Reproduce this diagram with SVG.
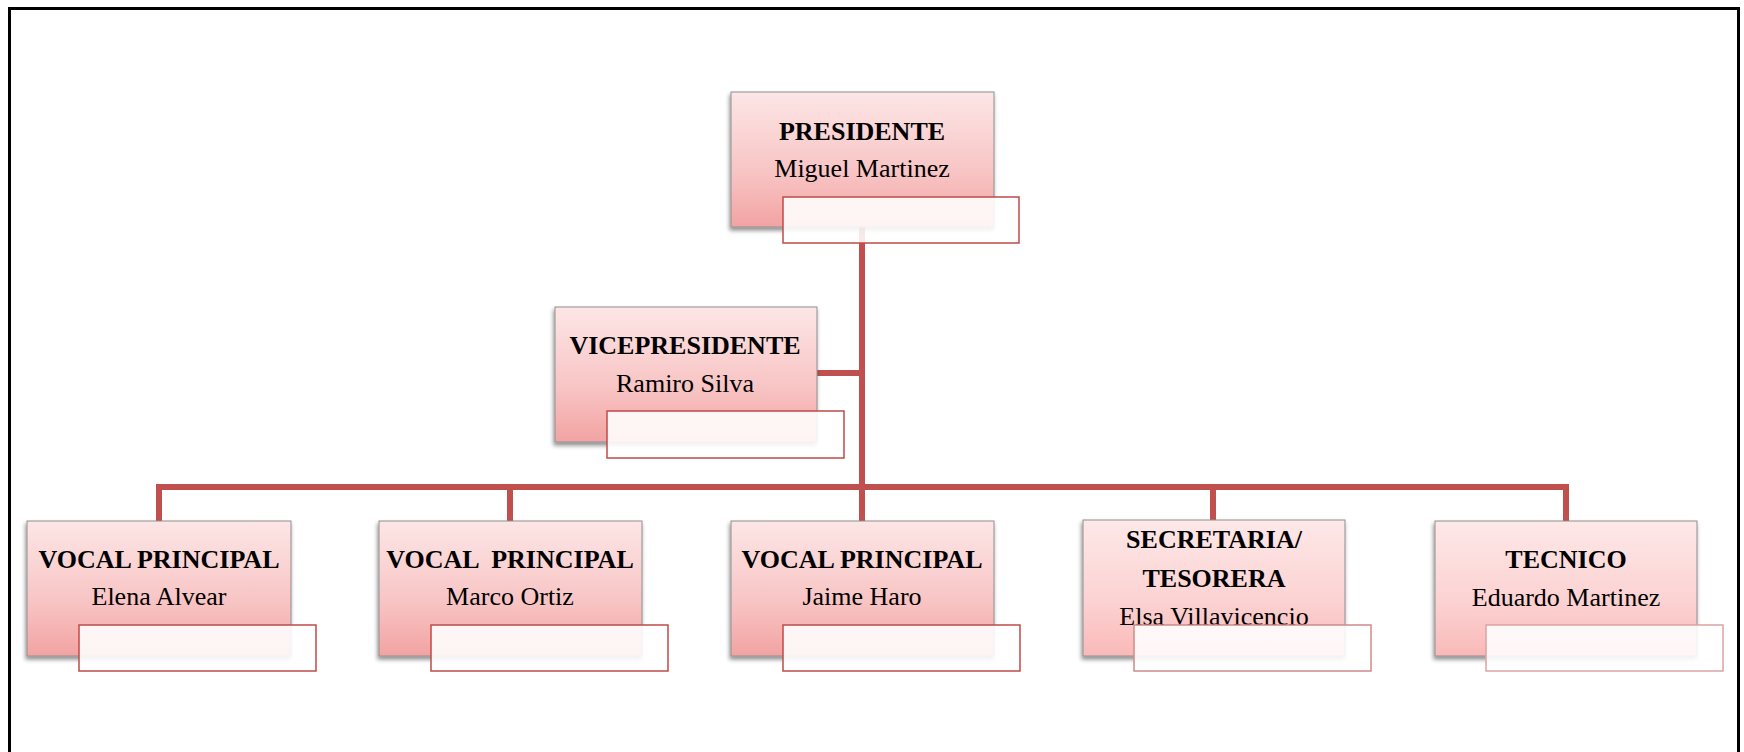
<svg xmlns="http://www.w3.org/2000/svg" width="1744" height="752" viewBox="0 0 1744 752">
<defs>
<linearGradient id="g" x1="0" y1="0" x2="0" y2="1">
<stop offset="0" stop-color="#fde6e6"/>
<stop offset="0.6" stop-color="#f8c4c4"/>
<stop offset="1" stop-color="#f2a3a2"/>
</linearGradient>
<linearGradient id="g2" x1="0" y1="0" x2="0" y2="1">
<stop offset="0" stop-color="#fee8e8"/>
<stop offset="0.6" stop-color="#fcd2d2"/>
<stop offset="1" stop-color="#f9b9b8"/>
</linearGradient>
<filter id="sh" x="-10%" y="-10%" width="120%" height="130%">
<feDropShadow dx="-1" dy="3" stdDeviation="2" flood-color="#000" flood-opacity="0.45"/>
</filter>
</defs>
<style>
.box{fill:url(#g);stroke:#8f8f8f;stroke-width:1;filter:url(#sh)}
.box2{fill:url(#g2);stroke:#8f8f8f;stroke-width:1;filter:url(#sh)}
.ov{fill:#ffffff;fill-opacity:0.88;stroke:#be4b48;stroke-width:1.5}
.ov2{fill:#ffffff;fill-opacity:0.88;stroke:#d08a89;stroke-width:1.5}
.ov3{fill:#ffffff;fill-opacity:0.88;stroke:#dba3a3;stroke-width:1.5}
.t{font-family:"Liberation Serif","Times New Roman",serif;font-size:26px;font-weight:bold;fill:#000;text-anchor:middle;white-space:pre}
.n{font-family:"Liberation Serif","Times New Roman",serif;font-size:26px;fill:#000;text-anchor:middle}
.c{fill:none;stroke:#c0504d;stroke-width:6}
</style>
<rect x="0" y="0" width="1744" height="752" fill="#fff"/>
<rect x="9.5" y="8.5" width="1729" height="760" fill="none" stroke="#000" stroke-width="3"/>
<g id="connectors">
<path class="c" d="M862 200 V521"/>
<path class="c" d="M817 373 H862"/>
<path class="c" d="M159 521 V487 H1566 V521"/>
<path class="c" d="M510 487 V521"/>
<path class="c" d="M1213 487 V521"/>
</g>
<g id="presidente">
<rect class="box" x="731" y="92" width="263" height="135"/>
<text class="t" x="862" y="140">PRESIDENTE</text>
<text class="n" x="862" y="177">Miguel Martinez</text>
<rect class="ov" x="783" y="197" width="236" height="46"/>
</g>
<g id="vicepresidente">
<rect class="box" x="555" y="307" width="262" height="135"/>
<text class="t" x="685" y="354">VICEPRESIDENTE</text>
<text class="n" x="685" y="392">Ramiro Silva</text>
<rect class="ov" x="607" y="411" width="237" height="47"/>
</g>
<g id="vocal1">
<rect class="box" x="27" y="521" width="264" height="135"/>
<text class="t" x="159" y="568">VOCAL PRINCIPAL</text>
<text class="n" x="159" y="605">Elena Alvear</text>
<rect class="ov" x="79" y="625" width="237" height="46"/>
</g>
<g id="vocal2">
<rect class="box" x="379" y="521" width="263" height="135"/>
<text class="t" x="510" y="568" xml:space="preserve">VOCAL  PRINCIPAL</text>
<text class="n" x="510" y="605">Marco Ortiz</text>
<rect class="ov" x="431" y="625" width="237" height="46"/>
</g>
<g id="vocal3">
<rect class="box" x="731" y="521" width="263" height="135"/>
<text class="t" x="862" y="568">VOCAL PRINCIPAL</text>
<text class="n" x="862" y="605">Jaime Haro</text>
<rect class="ov" x="783" y="625" width="237" height="46"/>
</g>
<g id="secretaria">
<rect class="box2" x="1083" y="520" width="262" height="136"/>
<text class="t" x="1214" y="548">SECRETARIA/</text>
<text class="t" x="1214" y="587">TESORERA</text>
<text class="n" x="1214" y="625">Elsa Villavicencio</text>
<rect class="ov2" x="1134" y="625" width="237" height="46"/>
</g>
<g id="tecnico">
<rect class="box2" x="1435" y="521" width="262" height="135"/>
<text class="t" x="1566" y="568">TECNICO</text>
<text class="n" x="1566" y="606">Eduardo Martinez</text>
<rect class="ov3" x="1486" y="625" width="237" height="46"/>
</g>
</svg>
